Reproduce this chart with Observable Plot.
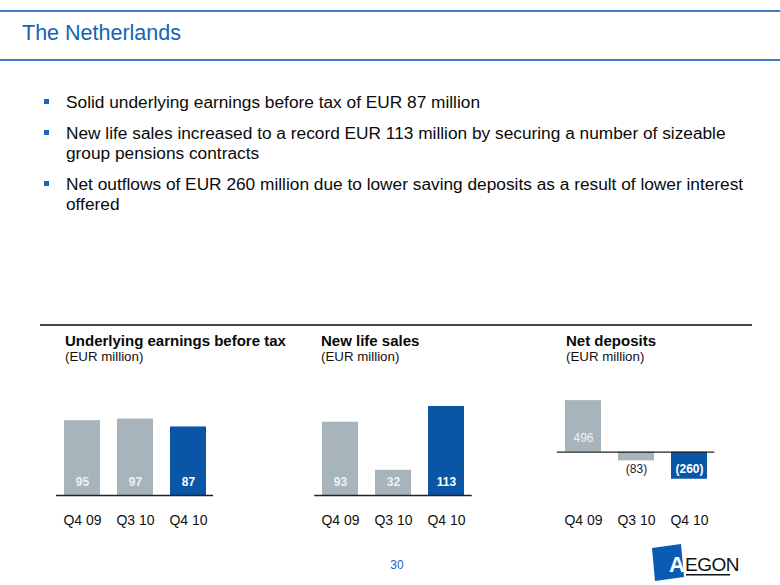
<!DOCTYPE html>
<html><head><meta charset="utf-8">
<script src="https://cdn.jsdelivr.net/npm/d3@7"></script>
<script src="https://cdn.jsdelivr.net/npm/@observablehq/plot@0.6"></script>
<style>
html,body{margin:0;padding:0;background:#fff;}
#slide{position:relative;width:780px;height:585px;overflow:hidden;font-family:"Liberation Sans",Arial,sans-serif;color:#111;}
.rule{position:absolute;left:0;width:780px;height:2px;background:#3d7fc4;}
#title{position:absolute;left:22px;top:20px;font-size:21.5px;color:#1463b5;line-height:26px;}
.bullets{position:absolute;left:44px;top:92px;width:730px;font-size:17.3px;line-height:20px;color:#0a0a0a;}
.b{position:relative;padding-left:22px;margin-bottom:11px;white-space:nowrap;}
.b::before{content:"";position:absolute;left:0;top:7px;width:5px;height:5px;background:#1a66b8;}
#sep{position:absolute;left:40px;top:324px;width:712px;height:1.5px;background:#444;}
.ct{position:absolute;top:332px;font-size:15px;font-weight:bold;line-height:17px;color:#0a0a0a;white-space:nowrap;}
.cs{position:absolute;top:349px;font-size:13.3px;line-height:16px;color:#111;white-space:nowrap;}
.chart{position:absolute;top:380px;}
#page{position:absolute;left:385px;top:558px;width:24px;text-align:center;font-size:12px;color:#1a66b8;}
#logo{position:absolute;left:648px;top:541px;}
</style></head>
<body><div id="slide">
<div class="rule" style="top:10px"></div>
<div id="title">The Netherlands</div>
<div class="rule" style="top:59px"></div>
<div class="bullets">
<div class="b">Solid underlying earnings before tax of EUR 87 million</div>
<div class="b">New life sales increased to a record EUR 113 million by securing a number of sizeable<br>group pensions contracts</div>
<div class="b">Net outflows of EUR 260 million due to lower saving deposits as a result of lower interest<br>offered</div>
</div>
<div id="sep"></div>
<div id="t1" class="ct" style="left:65px"></div><div id="s1" class="cs" style="left:65px"></div>
<div id="t2" class="ct" style="left:321px"></div><div id="s2" class="cs" style="left:321px"></div>
<div id="t3" class="ct" style="left:566px"></div><div id="s3" class="cs" style="left:566px"></div>
<div id="c1" class="chart" style="left:40px"></div>
<div id="c2" class="chart" style="left:300px"></div>
<div id="c3" class="chart" style="left:540px"></div>
<div id="page">30</div>
<svg id="logo" width="100" height="42" viewBox="0 0 100 42">
  <polygon points="4,7 33,3 36,36 7,40" fill="#0a5bb5"/>
  <text x="21" y="31" font-family="Liberation Sans, Arial, sans-serif" font-size="22" font-weight="bold" fill="#fff">A</text>
  <text x="37" y="30" font-family="Liberation Sans, Arial, sans-serif" font-size="19" fill="#111" letter-spacing="-0.5">EGON</text>
  <rect x="38" y="33" width="44" height="1.5" fill="#111"/>
</svg>
</div>
<script>
const quarters = ["Q4 09", "Q3 10", "Q4 10"];
const earnings = [95, 97, 87];
const lifeSales = [93, 32, 113];
const netDeposits = [496, -83, -260];
const chartTitles = ["Underlying earnings before tax", "New life sales", "Net deposits"];
const chartUnits = ["(EUR million)", "(EUR million)", "(EUR million)"];

const GRAY = "#a8b4bc", BLUE = "#0a55a6";
const fmt = v => v < 0 ? `(${Math.abs(v)})` : `${v}`;

chartTitles.forEach((t, i) => {
  document.getElementById("t" + (i + 1)).textContent = t;
  document.getElementById("s" + (i + 1)).textContent = chartUnits[i];
});

function chart(values, opts) {
  const data = quarters.map((q, i) => ({q, v: values[i]}));
  const hi = d => d.q === "Q4 10";
  const posG = data.filter(d => d.v >= 0 && !hi(d)), posB = data.filter(d => d.v >= 0 && hi(d));
  const negG = data.filter(d => d.v < 0 && !hi(d)), negB = data.filter(d => d.v < 0 && hi(d));
  const lbl = {x: "q", y: d => 0, text: d => fmt(d.v), fontSize: 12};
  return Plot.plot({
    width: 220, height: 160,
    marginLeft: opts.ml, marginRight: 220 - opts.ml - opts.fw, marginTop: 0, marginBottom: 30,
    style: {fontFamily: "Liberation Sans, Arial, sans-serif", fontSize: "14px", color: "#111", overflow: "visible", background: "transparent"},
    x: {domain: quarters, paddingInner: 0.326, paddingOuter: 0.133},
    y: {domain: opts.ydom, range: opts.yrange, axis: null},
    color: {domain: quarters, range: [GRAY, GRAY, BLUE]},
    marks: [
      Plot.barY(data, {x: "q", y: "v", fill: "q"}),
      Plot.ruleY([0], {stroke: "#222", strokeWidth: 1.3}),
      Plot.text(posG, {...lbl, dy: opts.posDy, fill: "#eef1f3", fontWeight: opts.grayWeight}),
      Plot.text(posB, {...lbl, dy: opts.posDy, fill: "#fff", fontWeight: "bold"}),
      Plot.text(negG, {...lbl, dy: 17, fill: "#222"}),
      Plot.text(negB, {...lbl, dy: 17, fill: "#fff", fontWeight: "bold"}),
      Plot.axisX({tickSize: 0, tickPadding: 4.5, label: null, fontSize: 14})
    ]
  });
}

document.getElementById("c1").append(chart(earnings, {ml: 16, fw: 157, ydom: [0, 100], yrange: [115, 115 - 78.8], posDy: -13, grayWeight: "bold"}));
document.getElementById("c2").append(chart(lifeSales, {ml: 14.3, fw: 157.4, ydom: [0, 100], yrange: [115, 115 - 78.8], posDy: -13, grayWeight: "bold"}));
document.getElementById("c3").append(chart(netDeposits, {ml: 16.7, fw: 157.6, ydom: [0, 500], yrange: [71.7, 71.7 - 52], posDy: -14.5, grayWeight: "normal"}));
</script>
</body></html>
